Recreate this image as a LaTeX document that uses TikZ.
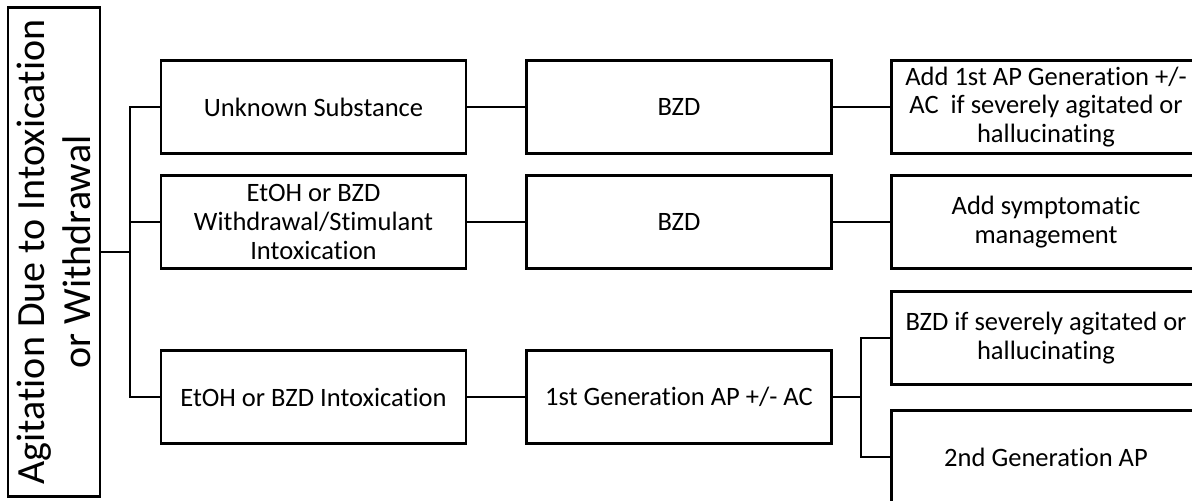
\documentclass[tikz,border=0pt]{standalone}
\usepackage{fontspec}
\setmainfont{Carlito}[Ligatures=NoCommon]
\usetikzlibrary{positioning}

\begin{document}
\begin{tikzpicture}[x=0.75pt, y=-0.75pt,
    block/.style={rectangle, draw, line width=2pt, minimum width=228.75pt, minimum height=69.75pt, inner sep=2pt, align=center, font=\fontsize{19.9}{21.4}\selectfont},
    link/.style={line width=2pt}
  ]
  \useasboundingbox (0,0) rectangle (1192,500);

  % Root
  \node[block, rotate=90, minimum width=366.75pt, minimum height=69pt, font=\fontsize{30}{34}\selectfont] (root) at (54,252) {Agitation Due to Intoxication\\or Withdrawal};

  % Substance
  \node[block] (unk) at (313.5,107) {Unknown Substance};
  \node[block] (wd) at (313.5,222) {EtOH or BZD\\Withdrawal/Stimulant\\Intoxication};
  \node[block] (intox) at (313.5,397) {EtOH or BZD Intoxication};

  % First line
  \node[block] (bzdA) at (679,107) {BZD};
  \node[block] (bzdB) at (679,222) {BZD};
  \node[block] (gen1) at (679,397) {1st Generation AP +/- AC};

  % Add-on
  \node[block, minimum width=232pt] (addap) at (1046,107) {Add 1st AP Generation +/-\\AC\ \ if severely agitated or\\hallucinating};
  \node[block, minimum width=232pt] (symp) at (1046,222) {Add symptomatic\\management};
  \node[block, minimum width=232pt] (bzdsev) at (1046,338) {BZD if severely agitated or\\hallucinating};
  \node[block, minimum width=232pt] (gen2) at (1046,457) {2nd Generation AP};

  % Connectors
  \coordinate (j1) at (130,252);
  \coordinate (j2) at (861,397);
  \draw[link] (root) -- (j1);
  \draw[link] (j1) |- (unk);
  \draw[link] (j1) |- (wd);
  \draw[link] (j1) |- (intox);
  \draw[link] (unk) -- (bzdA);
  \draw[link] (wd) -- (bzdB);
  \draw[link] (intox) -- (gen1);
  \draw[link] (bzdA) -- (addap);
  \draw[link] (bzdB) -- (symp);
  \draw[link] (gen1) -- (j2);
  \draw[link] (j2) |- (bzdsev);
  \draw[link] (j2) |- (gen2);
\end{tikzpicture}
\end{document}
